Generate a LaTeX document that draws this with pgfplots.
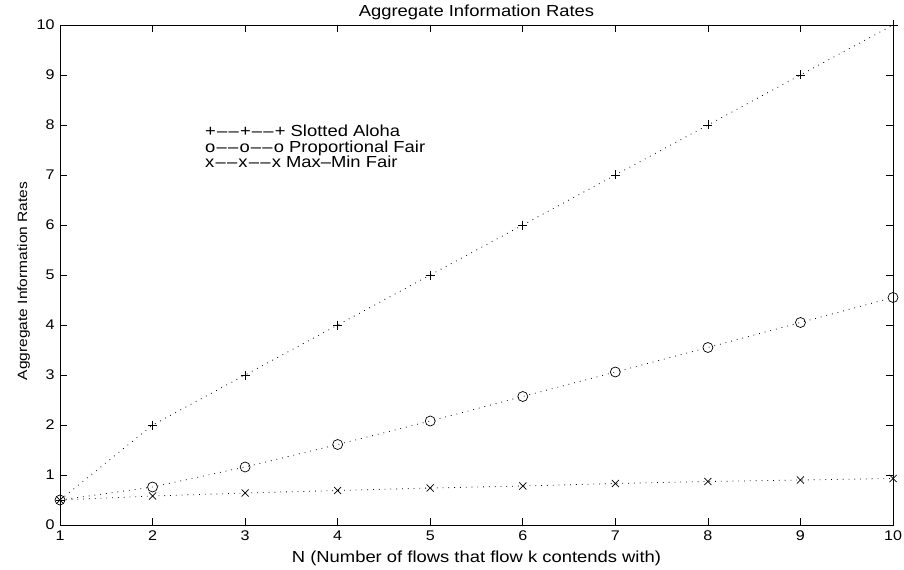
\documentclass[border=0pt]{standalone}
\usepackage{fontspec}
\setmainfont{Liberation Sans}[FakeStretch=1.15]
\usepackage{pgfplots}
\pgfplotsset{compat=1.18}
\newcommand{\dd}{\kern1.2bp--\kern1.2bp--\kern1.2bp}
\begin{document}
\begin{tikzpicture}
\begin{axis}[
  scale only axis,
  width=833bp, height=500bp,
  xmin=1, xmax=10, ymin=0, ymax=10,
  xtick={1,...,10}, ytick={0,...,10},
  tick align=inside,
  major tick length=7bp,
  axis line style={line width=0.8bp},
  tick style={line width=0.6bp, black},
  /pgf/number format/assume math mode=true,
  tick label style={font=\fontsize{14bp}{16bp}\selectfont},
  xticklabel style={anchor=north, yshift=-2bp},
  yticklabel style={anchor=east, xshift=-2bp},
  title={Aggregate Information Rates},
  title style={font=\fontsize{16bp}{18bp}\selectfont, at={(axis description cs:0.5,1)}, anchor=base, yshift=3bp},
  xlabel={N (Number of flows that flow k contends with)},
  ylabel={Aggregate Information Rates},
  xlabel style={font=\fontsize{16bp}{18bp}\selectfont, at={(axis description cs:0.5,0)}, anchor=base, yshift=-37bp},
  ylabel style={font=\fontsize{13.5bp}{16bp}\selectfont, at={(axis description cs:0,0.5)}, anchor=base, xshift=-6bp, yshift=33bp},
  every axis plot/.append style={black, line width=0.8bp, dash pattern=on 0.8bp off 5bp, mark options={solid, line width=0.7bp}},
]
\addplot[mark=+, mark size=4.5bp] coordinates {(1,0.5) (2,2) (3,3) (4,4) (5,5) (6,6) (7,7) (8,8) (9,9) (10,10)};
\addplot[mark=o, mark size=5bp] coordinates {(1,0.5) (2,0.76) (3,1.16) (4,1.61) (5,2.08) (6,2.57) (7,3.06) (8,3.55) (9,4.05) (10,4.55)};
\addplot[mark=x, mark size=5bp] coordinates {(1,0.5) (2,0.58) (3,0.64) (4,0.69) (5,0.74) (6,0.78) (7,0.83) (8,0.87) (9,0.9) (10,0.93)};
\node[anchor=base west, font=\fontsize{16bp}{18bp}\selectfont, inner sep=0pt] at (axis cs:2.567,7.76) {+\dd+\dd+ Slotted Aloha};
\node[anchor=base west, font=\fontsize{16bp}{18bp}\selectfont, inner sep=0pt] at (axis cs:2.567,7.44) {o\dd o\dd o Proportional Fair};
\node[anchor=base west, font=\fontsize{16bp}{18bp}\selectfont, inner sep=0pt] at (axis cs:2.567,7.14) {x\dd x\dd x Max--Min Fair};
\end{axis}
\pgfresetboundingbox
\path[use as bounding box] (current axis.south west) ++(-60bp,-44bp) rectangle ([xshift=11bp,yshift=25bp]current axis.north east);
\end{tikzpicture}
\end{document}
